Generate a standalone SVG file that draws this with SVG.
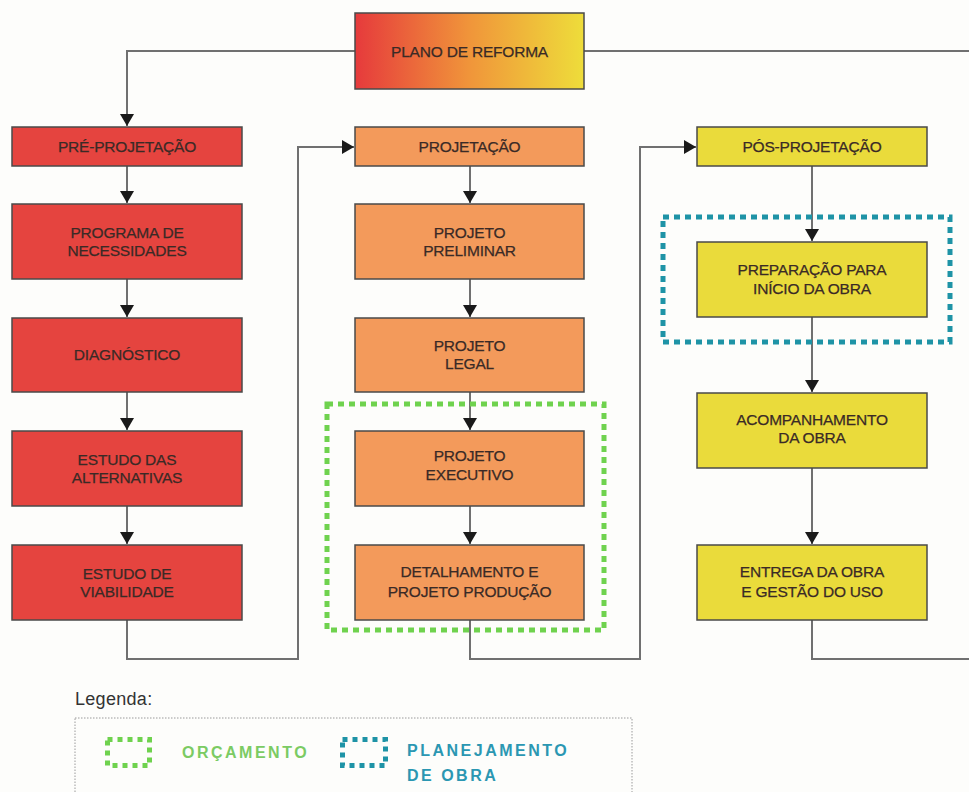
<svg xmlns="http://www.w3.org/2000/svg" width="969" height="792" viewBox="0 0 969 792">
  <style>
    .box { stroke: #4a4a4a; stroke-width: 1.5; }
    .red { fill: #E5443F; }
    .orange { fill: #F39A5B; }
    .yellow { fill: #EADB3B; }
    .lbl { font-family: "Liberation Sans", Arial, sans-serif; font-size: 15.5px; fill: #3a2a26; text-anchor: middle; letter-spacing: -0.2px; stroke: #3a2a26; stroke-width: 0.25; }
    .conn { fill: none; stroke: #707070; stroke-width: 2; }
    .arrow { fill: none; stroke: #707070; stroke-width: 2; marker-end: url(#head); }
    .green-dots { fill: none; stroke: #6FD24E; stroke-width: 5; stroke-dasharray: 6 5; }
    .blue-dots { fill: none; stroke: #1E93A6; stroke-width: 5; stroke-dasharray: 6 5; }
    .legend-title { font-family: "Liberation Sans", Arial, sans-serif; font-size: 18px; fill: #333; letter-spacing: 0.3px; }
    .legend-txt { font-family: "Liberation Sans", Arial, sans-serif; font-size: 16px; font-weight: bold; letter-spacing: 2.5px; }
  </style>
  <defs>
    <linearGradient id="planoGrad" x1="0" y1="0" x2="1" y2="0">
      <stop offset="0" stop-color="#E63A3C"/>
      <stop offset="0.5" stop-color="#F0953A"/>
      <stop offset="1" stop-color="#EEDD3A"/>
    </linearGradient>
    <marker id="head" viewBox="0 0 12 14" refX="12" refY="7" markerWidth="12" markerHeight="14" markerUnits="userSpaceOnUse" orient="auto">
      <path d="M0,0 L12,7 L0,14 Z" fill="#1a1a1a"/>
    </marker>
  </defs>

  <rect width="969" height="792" fill="#FDFDFB"/>

  <!-- connectors -->
  <g id="connectors">
    <!-- plano to the first phase, and to the right edge -->
    <path class="arrow" d="M355,51 H127 V126"/>
    <path class="conn" d="M584,51 H969"/>
    <!-- pre-projetação column -->
    <path class="arrow" d="M127,166 V203"/>
    <path class="arrow" d="M127,279 V317"/>
    <path class="arrow" d="M127,392 V430"/>
    <path class="arrow" d="M127,506 V544"/>
    <path class="arrow" d="M127,620 V659 H298 V147 H354"/>
    <!-- projetação column -->
    <path class="arrow" d="M470,166 V203"/>
    <path class="arrow" d="M470,279 V317"/>
    <path class="arrow" d="M470,392 V430"/>
    <path class="arrow" d="M470,506 V544"/>
    <path class="arrow" d="M470,620 V659 H640 V147 H696"/>
    <!-- pós-projetação column -->
    <path class="arrow" d="M812,166 V241"/>
    <path class="arrow" d="M812,317 V392"/>
    <path class="arrow" d="M812,468 V544"/>
    <path class="conn" d="M812,620 V659 H969"/>
  </g>

  <g id="plano">
    <rect class="box" x="355" y="13" width="229" height="76" fill="url(#planoGrad)"/>
    <text class="lbl" x="469.5" y="57">PLANO DE REFORMA</text>
  </g>

  <!-- pre-projetação -->
  <g id="pre-projetacao">
    <rect class="box red" x="12" y="127" width="230" height="39"/>
    <text class="lbl" x="127" y="152">PRÉ-PROJETAÇÃO</text>
  </g>
  <g id="programa">
    <rect class="box red" x="12" y="204" width="230" height="75"/>
    <text class="lbl" x="127" y="238">PROGRAMA DE</text>
    <text class="lbl" x="127" y="256">NECESSIDADES</text>
  </g>
  <g id="diagnostico">
    <rect class="box red" x="12" y="318" width="230" height="74"/>
    <text class="lbl" x="127" y="360">DIAGNÓSTICO</text>
  </g>
  <g id="alternativas">
    <rect class="box red" x="12" y="431" width="230" height="75"/>
    <text class="lbl" x="127" y="465">ESTUDO DAS</text>
    <text class="lbl" x="127" y="483">ALTERNATIVAS</text>
  </g>
  <g id="viabilidade">
    <rect class="box red" x="12" y="545" width="230" height="75"/>
    <text class="lbl" x="127" y="579">ESTUDO DE</text>
    <text class="lbl" x="127" y="597">VIABILIDADE</text>
  </g>

  <!-- projetação -->
  <g id="projetacao">
    <rect class="box orange" x="355" y="127" width="229" height="39"/>
    <text class="lbl" x="469.5" y="152">PROJETAÇÃO</text>
  </g>
  <g id="preliminar">
    <rect class="box orange" x="355" y="204" width="229" height="75"/>
    <text class="lbl" x="469.5" y="238">PROJETO</text>
    <text class="lbl" x="469.5" y="256">PRELIMINAR</text>
  </g>
  <g id="legal">
    <rect class="box orange" x="355" y="318" width="229" height="74"/>
    <text class="lbl" x="469.5" y="351">PROJETO</text>
    <text class="lbl" x="469.5" y="369">LEGAL</text>
  </g>
  <g id="executivo">
    <rect class="box orange" x="355" y="431" width="229" height="75"/>
    <text class="lbl" x="469.5" y="461">PROJETO</text>
    <text class="lbl" x="469.5" y="480">EXECUTIVO</text>
  </g>
  <g id="detalhamento">
    <rect class="box orange" x="355" y="545" width="229" height="75"/>
    <text class="lbl" x="469.5" y="577">DETALHAMENTO E</text>
    <text class="lbl" x="469.5" y="597">PROJETO PRODUÇÃO</text>
  </g>

  <!-- pós-projetação -->
  <g id="pos-projetacao">
    <rect class="box yellow" x="697" y="127" width="230" height="39"/>
    <text class="lbl" x="812" y="152">PÓS-PROJETAÇÃO</text>
  </g>
  <g id="preparacao">
    <rect class="box yellow" x="697" y="242" width="230" height="75"/>
    <text class="lbl" x="812" y="275">PREPARAÇÃO PARA</text>
    <text class="lbl" x="812" y="294">INÍCIO DA OBRA</text>
  </g>
  <g id="acompanhamento">
    <rect class="box yellow" x="697" y="393" width="230" height="75"/>
    <text class="lbl" x="812" y="425">ACOMPANHAMENTO</text>
    <text class="lbl" x="812" y="443">DA OBRA</text>
  </g>
  <g id="entrega">
    <rect class="box yellow" x="697" y="545" width="230" height="75"/>
    <text class="lbl" x="812" y="577">ENTREGA DA OBRA</text>
    <text class="lbl" x="812" y="597">E GESTÃO DO USO</text>
  </g>

  <!-- grouping frames -->
  <g id="orcamento-frame">
    <rect class="green-dots" x="327" y="404" width="277" height="226"/>
  </g>
  <g id="planejamento-frame">
    <rect class="blue-dots" x="663" y="217" width="287" height="125"/>
  </g>

  <!-- legend -->
  <g id="legend">
    <text class="legend-title" x="75" y="705">Legenda:</text>
    <rect x="75" y="718" width="557" height="80" fill="none" stroke="#9a9a9a" stroke-width="1" stroke-dasharray="1.5 1.5"/>
    <rect x="107.5" y="739.5" width="42" height="26" fill="none" stroke="#6FD24E" stroke-width="5" stroke-dasharray="5 5"/>
    <text class="legend-txt" x="182" y="758" fill="#7BCB63">ORÇAMENTO</text>
    <rect x="342.5" y="739.5" width="43" height="26" fill="none" stroke="#1E93A6" stroke-width="5" stroke-dasharray="5 5"/>
    <text class="legend-txt" x="407" y="756" fill="#2B97B2">PLANEJAMENTO</text>
    <text class="legend-txt" x="407" y="781" fill="#2B97B2">DE OBRA</text>
  </g>
</svg>
